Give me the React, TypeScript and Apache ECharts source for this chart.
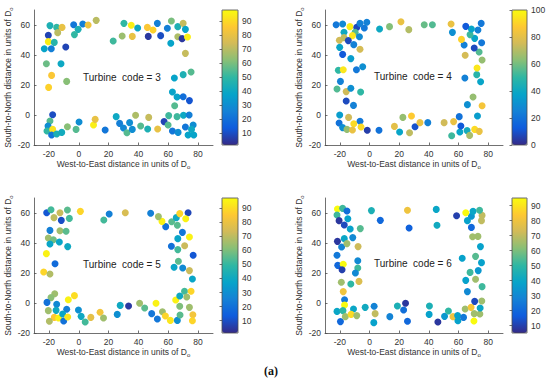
import React, { useEffect, useRef } from 'react';
import * as echarts from 'echarts';

// ---- data ----
const xTicks = [-20, 0, 20, 40, 60, 80];
const yTicks = [-20, 0, 20, 40, 60];
const turbineCodes = [3, 4, 5, 6];

// [west-to-east, south-to-north, colour value]
const code3Points = [
  [-19.3, 59.6, 45], [-14.8, 58.4, 50], [-11.2, 58.4, 80], [-14.1, 54.9, 70], [-20.4, 53.1, 8],
  [-20.4, 48.9, 95], [-16.4, 48.4, 48], [-23.1, 44.2, 38], [-18.4, 44.2, 25], [-8.7, 45.3, 8],
  [-3.4, 60.2, 22], [2.7, 60.7, 25], [-0.4, 57.1, 45], [6.3, 60, 82], [11.7, 63.1, 70],
  [-2.9, 53.6, 50], [-21.7, 34.2, 58], [-11.9, 34.2, 40], [-18.2, 26.4, 85], [-20.2, 18.4, 88],
  [-8.1, 22.4, 62], [-17.5, 0.2, 10], [-19.3, -4, 55], [-20.6, -7.3, 30], [-21.3, -10.7, 50],
  [-17.5, -9.6, 92], [-18.2, -13.3, 22], [-14.8, -12.7, 45], [-11.4, -11.6, 42], [-7.6, -7.8, 62],
  [-1.8, -9.6, 55], [0.2, -4.7, 30], [9.9, -6.7, 95], [11, -2.9, 80],
  [23.1, 49.3, 52], [30.3, 61.1, 50], [29.1, 52.7, 65], [35.2, 59.8, 95], [35.9, 52.4, 80],
  [39.5, 58, 40], [46, 58.4, 85], [46.6, 52.4, 5], [49.8, 56.7, 88], [52.7, 61.1, 25],
  [54.9, 52.9, 10], [59.4, 57.8, 25], [62.1, 62.7, 60], [66.4, 58.9, 45], [70, 61.1, 72],
  [66.4, 52.2, 68], [69.3, 50.9, 5], [72.9, 52, 95], [61.7, 47.8, 38], [71.5, 57.1, 38],
  [71.5, 41.1, 72], [75.3, 28.7, 55], [70, 26.9, 45], [64.1, 24.7, 38], [62.8, 15.3, 38],
  [65.9, 12, 38], [70, 12.2, 20], [74.2, 9.6, 12], [64.3, 6.2, 55], [60.3, -0.4, 52],
  [65.9, -1.1, 52], [70.2, -0.2, 40], [74, 0, 25], [57.2, -4.4, 8], [59.9, -6.7, 55],
  [71.5, -8, 22], [76.7, -6.7, 30], [62.8, -10.7, 22], [66.6, -11.6, 30], [73.3, -13.3, 38],
  [77.1, -13.3, 38], [75.6, -9.6, 40],
  [17.7, -10, 22], [25.1, -1.1, 40], [27.4, -5.6, 25], [30, -8.7, 28], [32.3, -11.8, 55],
  [34.1, -5.1, 30], [35.9, -9.6, 30], [38.1, -0.2, 68], [41.5, -7.3, 55], [46.9, -1.6, 72],
  [46.2, -9.3, 45], [52.9, -9.3, 80],
];

const code4Points = [
  [-22.5, 60.2, 22], [-18.1, 60.7, 28], [-17.2, 55.1, 40], [-13.2, 58.9, 97], [-8.6, 58.4, 8],
  [-9.7, 55.1, 55], [-11.5, 52.9, 95], [-6.8, 52.2, 28], [-6.4, 61.1, 25], [-3.5, 58, 22],
  [-1.8, 61.8, 25], [-20.3, 49.8, 75], [-17.2, 51.6, 72], [-14.3, 49.6, 8], [-10.6, 46.9, 25],
  [-20.1, 45.1, 38], [-6.4, 43.8, 76], [-18.1, 40.4, 12], [-12.6, 37.6, 35], [-21, 29.8, 50],
  [-17.7, 30.2, 95], [-8.8, 30.2, 22], [-4.6, 32.2, 30], [-19.6, 22.4, 25], [-21.9, 17.3, 55],
  [-15.7, 15.6, 75], [-12.6, 17.8, 30], [-6, 15.3, 50], [-15.7, 9.3, 8], [-10.8, 6.4, 25],
  [-20.1, 0, 35], [-14.1, -1.6, 75], [-6.4, -4.2, 22], [-20.5, -5.3, 20], [-18.1, -8.4, 30],
  [-15.2, -9.6, 65], [-10.6, -5.8, 92], [-11.5, -10, 82], [-5.7, -8, 92], [-1.5, -10.2, 5],
  [6.4, -10.2, 20], [16.8, -7.6, 80], [20.3, -11.3, 38], [22.5, -1.6, 65], [27, -11.8, 72],
  [28.3, -0.7, 88], [30.7, -7.8, 10], [34, -5.1, 82], [39.3, -5.1, 25], [50.3, -5.1, 75],
  [55.4, -13.8, 52], [56.7, -4.4, 82], [60.5, -1.1, 20], [60.9, -11.3, 38], [61.6, -7.3, 12],
  [65.8, -10.4, 42], [67.5, -13.6, 68], [70.9, -9.6, 92], [74, -10.9, 82], [72.8, -0.7, 35],
  [75.9, 6.2, 85], [66, 6.9, 30], [69.8, 12, 65],
  [64.3, 24.7, 25], [72.3, 26.9, 48], [74.9, 22.2, 38], [72.5, 31.3, 95], [75.9, 36.7, 65],
  [73.9, 42, 55], [64.5, 39.8, 76], [70.6, 44.7, 8], [63.8, 46.7, 25], [62, 50.4, 90],
  [70.9, 51.1, 38], [67.8, 53.6, 52], [73.1, 56.7, 25], [75.6, 48.2, 22], [68.7, 57.3, 38],
  [64.9, 59.1, 12], [75.3, 61.1, 22], [55, 60.7, 82], [55.9, 55.1, 30], [6.8, 57.3, 40],
  [13.5, 58.9, 62], [21.2, 62.2, 82], [26.5, 56.9, 70], [36.9, 60.2, 58], [42.4, 60.2, 55],
];

const code5Points = [
  [-21.5, 60.2, 12], [-18.6, 62.2, 52], [-16.6, 56.9, 70], [-12.6, 60.2, 72], [-11.7, 55.1, 10],
  [-7.6, 62, 55], [-6.3, 56.4, 52], [1.1, 61.1, 88], [-19.3, 48.4, 25], [-12.6, 48.2, 65],
  [-8.5, 47.8, 55], [-20.4, 43.3, 65], [-17, 42.2, 58], [-19.3, 39.3, 38], [-13, 40.7, 38],
  [-7.4, 37.6, 40], [-21.7, 32.9, 95], [-15.9, 26.2, 18], [-23.5, 20.7, 88], [-19.3, 19.3, 68],
  [-16.1, 6.2, 65], [-18.6, 3.6, 62], [-21.3, 0.4, 20], [-14.8, -0.9, 28], [-7, 2.2, 95],
  [-2.9, 4.9, 90], [-20.4, -5.1, 65], [-15.2, -4.9, 40], [-8.1, -4.2, 25], [-16.4, -9.6, 85],
  [-19.7, -12.2, 68], [-13.5, -10, 95], [-10.8, -7.3, 38], [-10.1, -12, 20], [-7.4, -9.3, 92],
  [-0.2, -4.7, 30], [1.6, -8.9, 40], [4.3, -12.7, 52], [8.1, -9.6, 78], [14.3, -6.2, 82],
  [16.6, -10, 65], [25.8, -7.6, 30], [27.8, -1.6, 40], [33.4, -2, 5], [40.8, -0.2, 65],
  [44.2, -3.3, 55], [48.9, -7.1, 22], [51.8, -0.2, 95], [52.7, -10.7, 22], [56.1, -5.8, 65],
  [58.1, -8.7, 88], [61.4, -11.6, 92], [66.1, -11.6, 30], [67.9, -8, 55], [67.7, -2.2, 60],
  [65, 2, 95], [67.7, 4.7, 40], [70.9, 7.8, 52], [72.4, 4, 65], [74.2, -2.9, 65],
  [75.3, 7.8, 88], [76.5, -7.8, 82], [76.2, -11.8, 88],
  [76.2, 16, 38], [74.2, 21.6, 72], [69.7, 23.3, 28], [63.9, 23.8, 38], [66.8, 27.8, 55],
  [76.7, 31.8, 12], [71, 38.2, 72], [66.4, 35.6, 52], [62.1, 37.8, 20], [74.2, 44, 95],
  [66.4, 42.9, 38], [69.5, 47.1, 22], [66.1, 51.8, 55], [62.3, 54.2, 55], [65.4, 56.9, 40],
  [58.3, 50.9, 20], [55.8, 54.4, 95], [53.4, 57.6, 65], [48.2, 59.8, 25], [67.7, 59.6, 88],
  [73.3, 60.2, 8], [71.7, 56.2, 95], [20.4, 59.3, 25], [16.8, 55.3, 52], [31.2, 60.2, 75],
];

const code6Points = [
  [-21.6, 62.7, 95], [-18.1, 63.1, 52], [-15.2, 61.3, 22], [-21.9, 58.7, 52], [-20.5, 54.9, 8],
  [-17, 52, 12], [-14.6, 56.2, 38], [-13, 49.3, 38], [-6.2, 49.6, 55], [-17, 42.9, 40],
  [-11.3, 43.6, 30], [-21.6, 41.1, 8], [-18.8, 37.3, 28], [-15.2, 39.6, 65], [-7.7, 37.6, 72],
  [-21.9, 31.8, 25], [-7.9, 28.2, 30], [-21.4, 25.1, 20], [-17.7, 25.8, 95], [-18.5, 22.2, 10],
  [-7.9, 23.3, 52], [-9.5, 20, 30], [-19, 13.8, 65], [-12.6, 12.7, 50], [-7.1, 14.4, 75],
  [-17.7, 7.6, 80], [-16.8, 2.2, 25], [-16.8, -1.3, 95],
  [-21.9, -5.6, 40], [-17.9, -5.1, 50], [-10.8, -4, 40], [-19.6, -12.4, 20], [-16.3, -9.1, 65],
  [-12.4, -7.6, 88], [-8.6, -8.4, 65], [-2.9, -2.9, 42], [3.1, -2.2, 28], [3.8, -7.1, 70],
  [2.9, -13.1, 38], [1.3, 61.6, 45], [7.3, 55.1, 20], [25.6, 61.8, 80], [26.7, 50, 18],
  [45, 62.4, 40], [45.5, 51.8, 42],
  [13.7, -9.1, 28], [18.8, -2, 45], [23, -4.7, 22], [24.3, -0.2, 8], [25.6, -12.2, 20],
  [40.4, -2, 45], [40.2, -7.6, 38], [46.1, -12.7, 8], [50.6, -8.9, 35], [53.2, -5.3, 50],
  [56.3, -9.1, 80], [59.4, -8.4, 38], [59.6, -11.8, 38], [63.4, -9.6, 25], [64.5, -4, 65],
  [68.5, -2.9, 82], [70.9, 1.1, 12], [70.6, -7.1, 65], [74.4, -7.3, 65], [74.6, -3.3, 40],
  [70.4, -12, 95], [75.7, 1.3, 65], [75.9, 10.9, 52], [66, 7.6, 30], [64.9, 15.1, 38],
  [71.5, 15.8, 65], [67.8, 20.4, 52], [73.3, 21.6, 35], [75.5, 26.9, 38], [62.5, 29.8, 38],
  [71.5, 31.1, 55], [74.8, 37.6, 38], [73.1, 44.4, 65], [69.5, 44.2, 65], [68.7, 50.4, 20],
  [75.5, 54.9, 70], [75.9, 58.4, 70], [66, 54.9, 38], [68.7, 57.8, 35], [69.8, 61.1, 40],
  [74.2, 61.8, 52], [64.9, 60.2, 95], [58.7, 58.2, 10],
];

const panelPoints = [code3Points, code4Points, code5Points, code6Points];
const colorbarRanges = [[1.7, 97.8], [0, 100], [1.3, 97], [5, 95]];
const colorbarTicks = [
  [10, 20, 30, 40, 50, 60, 70, 80, 90],
  [0, 20, 40, 60, 80, 100],
  [10, 20, 30, 40, 50, 60, 70, 80, 90],
  [10, 20, 30, 40, 50, 60, 70, 80, 90],
];
const parula = ['#352a87', '#0f5cdd', '#1481d6', '#06a4ca', '#2eb7a4', '#87bf77', '#d1bb59', '#fec832', '#f9fb0e'];

// ---- layout ----
const layout = [
  { left: 34, top: 10, width: 179, cbLeft: 222, cbWidth: 16, tx: 83, ty: 79 },
  { left: 325, top: 10, width: 178, cbLeft: 512, cbWidth: 15, tx: 374, ty: 78 },
  { left: 34, top: 198, width: 179, cbLeft: 222, cbWidth: 16, tx: 83, ty: 266.5 },
  { left: 325, top: 198, width: 178, cbLeft: 512, cbWidth: 15, tx: 374, ty: 265 },
];
const H = 135;
const FONT = 'Liberation Sans, Arial, sans-serif';
const AX = '#4d4d4d';
const TXT = '#333';

function buildOption() {
  const grid: any[] = [];
  const xAxis: any[] = [];
  const yAxis: any[] = [];
  const series: any[] = [];
  const visualMap: any[] = [];
  const graphic: any[] = [];
  const rich = { sub: { fontSize: 6, fontFamily: FONT, color: TXT, padding: [6, 0, 0, 0] } };

  layout.forEach((L, i) => {
    grid.push({ left: L.left, top: L.top, width: L.width, height: H, containLabel: false });
    grid.push({ left: L.cbLeft, top: L.top, width: L.cbWidth, height: H, show: true, borderColor: AX, borderWidth: 0.8, backgroundColor: 'transparent', z: 10 });

    xAxis.push({
      type: 'value', gridIndex: 2 * i, min: -30, max: 90,
      axisLine: { show: true, onZero: false, lineStyle: { color: AX, width: 0.8 } },
      axisTick: { show: true, inside: true, length: 2.5, customValues: xTicks, lineStyle: { color: AX, width: 0.8 } },
      axisLabel: { customValues: xTicks, fontSize: 8.5, fontFamily: FONT, color: TXT, margin: 4 },
      splitLine: { show: false },
      name: 'West-to-East distance in units of D{sub|o}',
      nameLocation: 'middle', nameGap: 13,
      nameTextStyle: { fontSize: 8.5, fontFamily: FONT, color: TXT, rich },
    });
    xAxis.push({ type: 'value', gridIndex: 2 * i + 1, min: 0, max: 1, show: false });

    yAxis.push({
      type: 'value', gridIndex: 2 * i, min: -20, max: 70,
      axisLine: { show: true, onZero: false, lineStyle: { color: AX, width: 0.8 } },
      axisTick: { show: true, inside: true, length: 2.5, customValues: yTicks, lineStyle: { color: AX, width: 0.8 } },
      axisLabel: { customValues: yTicks, fontSize: 8.5, fontFamily: FONT, color: TXT, margin: 4 },
      splitLine: { show: false },
      name: 'South-to-North distance in units of D{sub|o}',
      nameLocation: 'middle', nameGap: 20,
      nameTextStyle: { fontSize: 8.5, fontFamily: FONT, color: TXT, rich },
    });
    const [cmin, cmax] = colorbarRanges[i];
    yAxis.push({
      type: 'value', gridIndex: 2 * i + 1, position: 'right', min: cmin, max: cmax,
      axisLine: { show: false },
      axisTick: { show: true, inside: true, length: 2.5, customValues: colorbarTicks[i], lineStyle: { color: AX, width: 0.8 } },
      axisLabel: { customValues: colorbarTicks[i], fontSize: 8.5, fontFamily: FONT, color: TXT, margin: 4 },
      splitLine: { show: false },
    });

    series.push({
      type: 'scatter', xAxisIndex: 2 * i, yAxisIndex: 2 * i,
      data: panelPoints[i], symbolSize: 7,
      itemStyle: { opacity: 1 },
    });

    visualMap.push({
      type: 'continuous', seriesIndex: i, dimension: 2, min: cmin, max: cmax,
      inRange: { color: parula }, calculable: false, hoverLink: false,
      left: L.cbLeft, top: L.top, itemWidth: L.cbWidth, itemHeight: H, padding: 0,
      orient: 'vertical', text: null, z: 1,
    });

    graphic.push({
      type: 'text', left: L.tx, top: L.ty - 7,
      style: { text: `Turbine  code = ${turbineCodes[i]}`, font: `10px ${FONT}`, fill: '#222' },
    });
  });

  graphic.push({
    type: 'text', left: 264, top: 365,
    style: { text: '(a)', font: `bold 12px "Liberation Serif", "Times New Roman", serif`, fill: '#111' },
  });

  return {
    animation: false,
    backgroundColor: '#fff',
    grid, xAxis, yAxis, series, visualMap, graphic,
  };
}

export default function App() {
  const ref = useRef<HTMLDivElement>(null);
  useEffect(() => {
    if (!ref.current) return;
    const chart = echarts.init(ref.current, undefined, { renderer: 'svg' });
    chart.setOption(buildOption() as any);
    return () => chart.dispose();
  }, []);
  return <div ref={ref} style={{ position: 'fixed', left: 0, top: 0, width: 550, height: 385, background: '#fff' }} />;
}
